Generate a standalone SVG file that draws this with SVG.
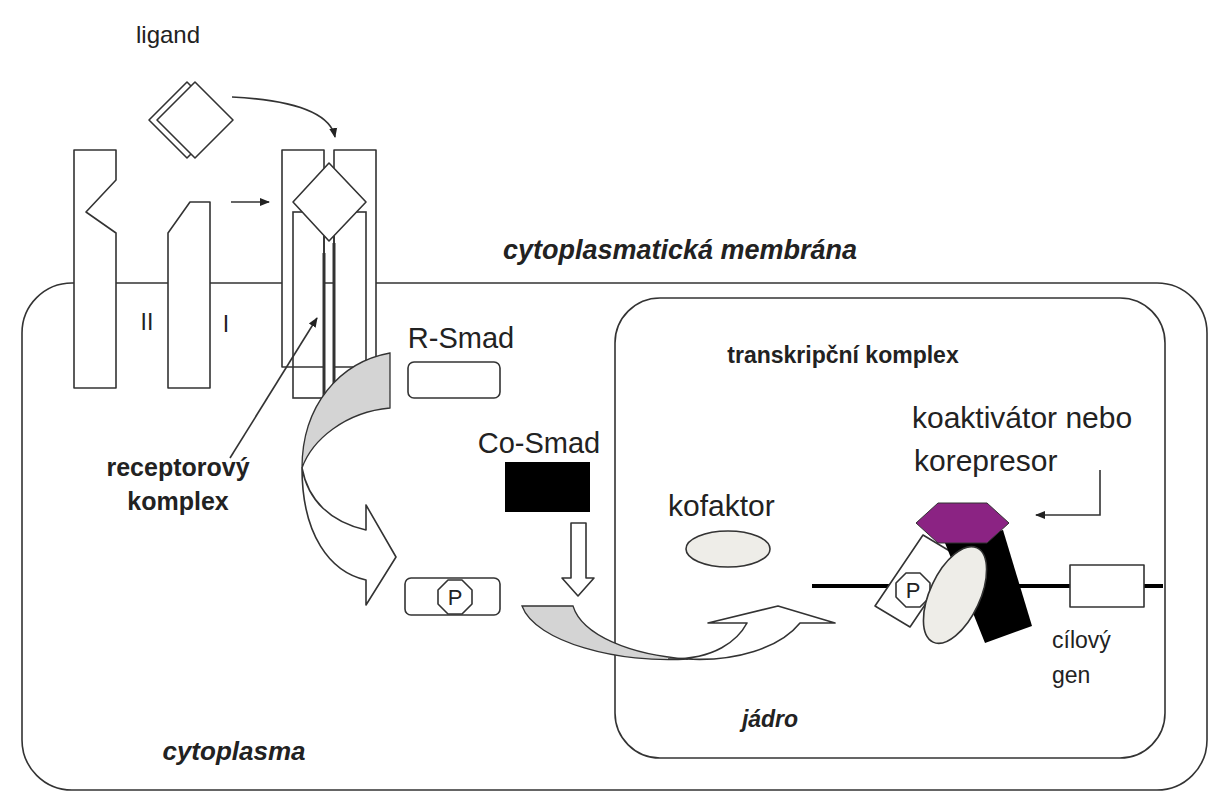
<svg xmlns="http://www.w3.org/2000/svg" width="1221" height="800" viewBox="0 0 1221 800">
<defs>
<style>
.o{fill:#fff;stroke:#333;stroke-width:1.6;stroke-linejoin:round}
.n{fill:none;stroke:#333;stroke-width:1.6}
.t{font-family:"Liberation Sans",Arial,sans-serif;fill:#222}
.b{font-weight:bold}
.i{font-style:italic}
</style>
<marker id="ah" markerWidth="10" markerHeight="10" refX="9" refY="5" orient="auto" markerUnits="userSpaceOnUse"><path d="M0,1 L10,5 L0,9 Z" fill="#222"/></marker>
</defs>
<rect width="1221" height="800" fill="#fff"/>
<g id="cell"><rect x="22" y="283" width="1185" height="507" rx="50" class="n"/></g>
<g id="nucleus"><rect x="615" y="298" width="550" height="460" rx="45" class="n"/></g>
<g id="ligand">
<polygon points="149,120 187,82 225,120 187,158" class="o"/>
<polygon points="157,120 195,82 233,120 195,158" class="o"/>
</g>
<g id="receptorII"><polygon points="74,150 116,150 116,180 86,212 116,233 116,388 74,388" class="o"/></g>
<g id="receptorI"><polygon points="168,388 168,233 190,202 210,202 210,388" class="o"/></g>
<g id="complex">
<rect x="282" y="150" width="42" height="217" class="o"/>
<rect x="334" y="150" width="42" height="217" class="o"/>
<rect x="293" y="212" width="31" height="186" class="n"/>
<rect x="334" y="212" width="32" height="186" class="n"/>
<line x1="324" y1="253" x2="324" y2="398" stroke="#333" stroke-width="3"/>
<line x1="334" y1="243" x2="334" y2="398" stroke="#333" stroke-width="3"/>
<polygon points="293,202 329,163 366,202 329,241" class="o"/>
</g>
<g id="rsmad"><rect x="408" y="362" width="92" height="36" rx="6" class="o"/></g>
<g id="cosmad"><rect x="505" y="462" width="85" height="50" fill="#000"/></g>
<g id="psmad"><rect x="405" y="578" width="95" height="37" rx="6" class="o"/>
<polygon points="448,580 462,580 472,590 472,604 462,614 448,614 438,604 438,590" class="o"/>
<text x="455" y="605" class="t" style="font-size:22px" text-anchor="middle">P</text></g>
<g id="kofaktor"><ellipse cx="728" cy="549" rx="42" ry="18" fill="#eeede8" stroke="#333" stroke-width="1.6"/></g>
<g id="dna"><line x1="812" y1="586" x2="1163" y2="586" stroke="#000" stroke-width="4"/>
<rect x="1070" y="565" width="74" height="42" class="o"/></g>
<g id="tcomplex">
<polygon points="923,535 958,556 910,627 875,606" class="o"/>
<polygon points="906,573 920,573 930,583 930,597 920,607 906,607 896,597 896,583" class="o"/>
<text x="913" y="598" class="t" style="font-size:22px" text-anchor="middle">P</text>
<polygon points="945,543 1003,530 1032,626 985,643" fill="#000"/>
<ellipse cx="955" cy="595" rx="25" ry="52" transform="rotate(25 955 595)" fill="#eeede8" stroke="#333" stroke-width="1.6"/>
<polygon points="916,523 938,503 987,503 1009,523 987,543 938,543" fill="#8b2383" stroke="#333" stroke-width="1"/>
</g>
<g id="connectors">
<path d="M232,97 C290,100 330,112 335,137" class="n" marker-end="url(#ah)"/>
<line x1="231" y1="202" x2="269" y2="202" class="n" marker-end="url(#ah)"/>
<line x1="230" y1="458" x2="317" y2="318" class="n" marker-end="url(#ah)"/>
<path d="M1100,470 L1100,515 L1036,515" class="n" marker-end="url(#ah)"/>
<path d="M390,353 C340,362 302,405 302,468 C312,440 345,412 390,408 Z" fill="#d4d4d4" stroke="#333" stroke-width="1.3"/>
<path d="M302,468 C302,535 330,572 366,580 L366,605 L396,557 L366,505 L366,530 C330,522 308,500 302,468 Z" class="o" stroke-width="1.3"/>
<path d="M571,523 L586,523 L586,578 L594,578 L578,596 L562,578 L571,578 Z" class="o" stroke-width="1.3"/>
<path d="M522,606 L573,606 C582,635 630,655 688,659 C620,664 535,642 522,606 Z" fill="#d4d4d4" stroke="#333" stroke-width="1.3"/>
<path d="M668,659 C715,660 738,640 747,623 L708,623 L778,606 L835,623 L800,623 C780,648 735,662 686,659" class="o" stroke-width="1.3"/>
</g>
<g id="labels">
<text x="168" y="43" class="t" text-anchor="middle" style="font-size:24px">ligand</text>
<text x="147" y="330" class="t" text-anchor="middle" style="font-size:23px">II</text>
<text x="226" y="332" class="t" text-anchor="middle" style="font-size:23px">I</text>
<text x="178" y="476" class="t b" text-anchor="middle" style="font-size:25px">receptorový</text>
<text x="178" y="510" class="t b" text-anchor="middle" style="font-size:25px">komplex</text>
<text x="680" y="259" class="t b i" text-anchor="middle" style="font-size:27px">cytoplasmatická membrána</text>
<text x="461" y="348" class="t" text-anchor="middle" style="font-size:29px">R-Smad</text>
<text x="539" y="453" class="t" text-anchor="middle" style="font-size:29px">Co-Smad</text>
<text x="843" y="363" class="t b" text-anchor="middle" style="font-size:23px">transkripční komplex</text>
<text x="912" y="428" class="t" style="font-size:30px">koaktivátor nebo</text>
<text x="914" y="471" class="t" style="font-size:30px">korepresor</text>
<text x="668" y="516" class="t" style="font-size:30px">kofaktor</text>
<text x="1052" y="648" class="t" style="font-size:23px">cílový</text>
<text x="1052" y="683" class="t" style="font-size:23px">gen</text>
<text x="770" y="727" class="t b i" text-anchor="middle" style="font-size:23px">jádro</text>
<text x="234" y="760" class="t b i" text-anchor="middle" style="font-size:26px">cytoplasma</text>
</g>
</svg>
